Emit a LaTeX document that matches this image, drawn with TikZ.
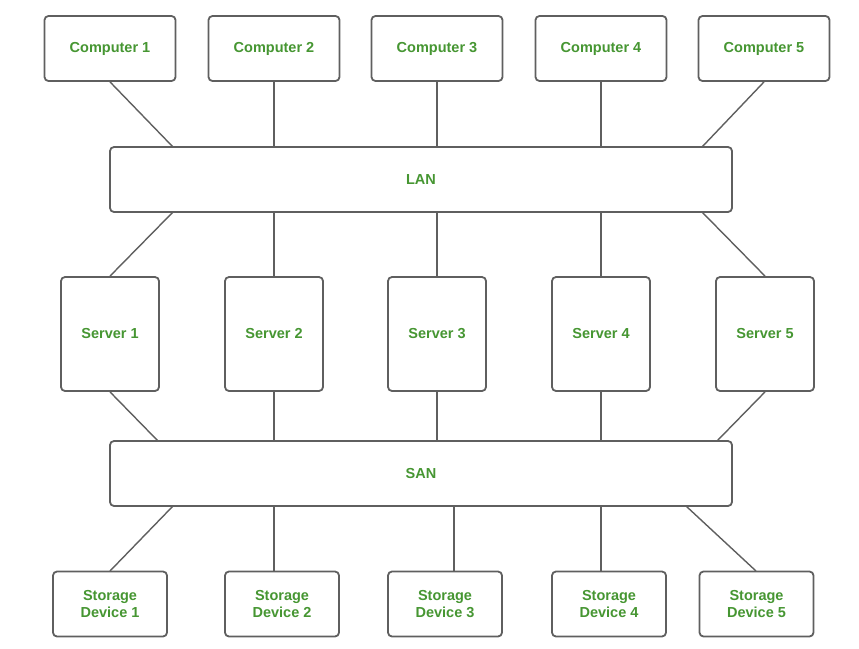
\documentclass[tikz,border=0pt]{standalone}
\usepackage{fontspec}
\setmainfont{Liberation Sans}
\begin{document}
\begin{tikzpicture}[x=1pt,y=-1pt,
  box/.style={draw=linegray,line width=1.8pt,rounded corners=4pt,fill=white,inner sep=0pt,
    font=\fontsize{14.5}{17}\selectfont\bfseries,text=txtgreen,align=center},
  link/.style={draw=linegray,line width=1.4pt}]
\definecolor{linegray}{RGB}{95,95,95}
\definecolor{txtgreen}{RGB}{70,150,50}
\useasboundingbox (0,0) rectangle (859,648);
% computers
\foreach \i/\x in {1/110,2/274,3/437,4/601,5/764}
  \node[box,minimum width=131pt,minimum height=65pt] (c\i) at (\x,48.5) {Computer \i};
\node[box,minimum width=622pt,minimum height=65pt] (lan) at (421,179.5) {LAN};
\foreach \i/\x in {1/110,2/274,3/437,4/601,5/765}
  \node[box,minimum width=98pt,minimum height=114pt] (s\i) at (\x,334) {Server \i};
\node[box,minimum width=622pt,minimum height=65pt] (san) at (421,473.5) {SAN};
\foreach \i/\x in {1/110,2/282,3/445,4/609,5/756.5}
  \node[box,minimum width=114pt,minimum height=65pt] (d\i) at (\x,604) {Storage\\Device \i};
% connection points on LAN / SAN
\coordinate (lt1) at (173,147); \coordinate (lt5) at (702,147);
\coordinate (lb1) at (173,212); \coordinate (lb5) at (702,212);
\coordinate (st1) at (158,441); \coordinate (st5) at (717,441);
\coordinate (sb1) at (173,506); \coordinate (sb5) at (686,506);
\coordinate (d1t) at (110,571); \coordinate (d5t) at (756,571);
\draw[link] (c1.south) -- (lt1);
\draw[link] (c5.south) -- (lt5);
\foreach \i in {2,3,4} \draw[link] (c\i.south) -- (c\i.south |- lan.north);
\draw[link] (lb1) -- (s1.north);
\draw[link] (lb5) -- (s5.north);
\foreach \i in {2,3,4} \draw[link] (s\i.north |- lan.south) -- (s\i.north);
\draw[link] (s1.south) -- (st1);
\draw[link] (s5.south) -- (st5);
\foreach \i in {2,3,4} \draw[link] (s\i.south) -- (s\i.south |- san.north);
\draw[link] (sb1) -- (d1t);
\draw[link] (sb5) -- (d5t);
\draw[link] (274,506) -- (d2.north -| 274,0);
\draw[link] (454,506) -- (d3.north -| 454,0);
\draw[link] (601,506) -- (d4.north -| 601,0);
\end{tikzpicture}
\end{document}
